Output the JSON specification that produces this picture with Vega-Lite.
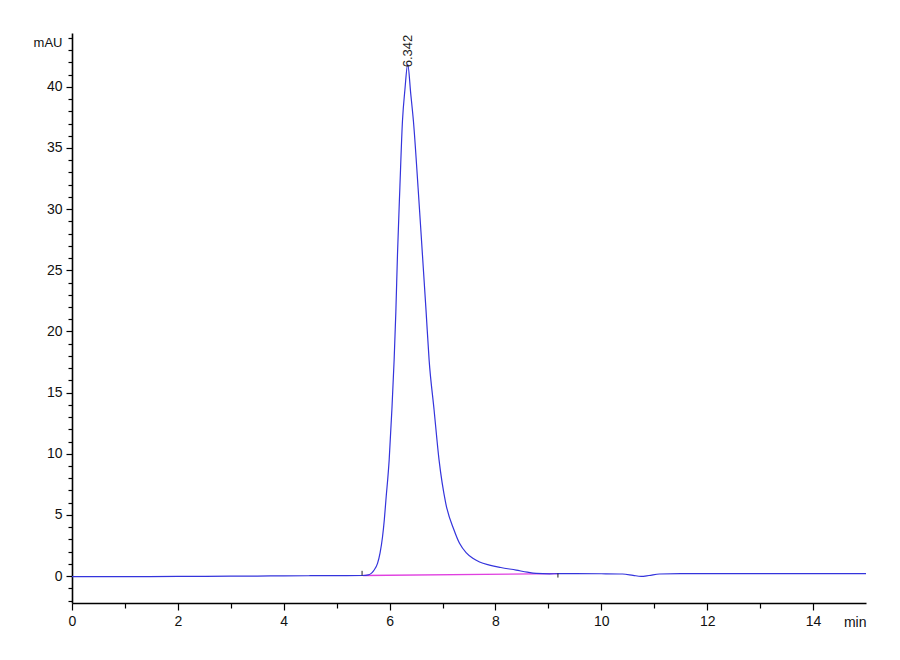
{
  "$schema": "https://vega.github.io/schema/vega-lite/v6.json",
  "width": 794,
  "height": 570,
  "autosize": {"type": "none"},
  "padding": {"left": 72, "top": 33, "right": 34, "bottom": 57},
  "background": "white",
  "config": {
    "view": {"stroke": null},
    "axis": {
      "labelFont": "Liberation Sans Narrow, Liberation Sans, Arial, sans-serif",
      "labelFontSize": 14,
      "labelColor": "#111111",
      "titleFont": "Liberation Sans Narrow, Liberation Sans, Arial, sans-serif",
      "titleFontSize": 13,
      "titleFontWeight": "normal",
      "titleColor": "#111111",
      "domainColor": "#000000",
      "domainWidth": 1.6,
      "tickColor": "#000000",
      "tickWidth": 1.2,
      "labelOverlap": false,
      "labelBound": false,
      "grid": false
    }
  },
  "datasets": {
    "signal": [
      {"rt": 0.0, "mAU": -0.05}, {"rt": 0.5, "mAU": -0.04}, {"rt": 1.0, "mAU": -0.04},
      {"rt": 2.0, "mAU": -0.03}, {"rt": 3.0, "mAU": -0.01}, {"rt": 3.5, "mAU": 0.0},
      {"rt": 4.0, "mAU": 0.02}, {"rt": 4.5, "mAU": 0.03}, {"rt": 5.0, "mAU": 0.04},
      {"rt": 5.5, "mAU": 0.05}, {"rt": 5.6, "mAU": 0.1}, {"rt": 5.647, "mAU": 0.2},
      {"rt": 5.7, "mAU": 0.45}, {"rt": 5.772, "mAU": 1.04}, {"rt": 5.82, "mAU": 1.9},
      {"rt": 5.866, "mAU": 3.2}, {"rt": 5.9, "mAU": 4.6}, {"rt": 5.93, "mAU": 6.2},
      {"rt": 5.992, "mAU": 9.5}, {"rt": 6.043, "mAU": 13.6}, {"rt": 6.086, "mAU": 17.7},
      {"rt": 6.118, "mAU": 21.6}, {"rt": 6.149, "mAU": 26.3}, {"rt": 6.194, "mAU": 31.75},
      {"rt": 6.243, "mAU": 37.2}, {"rt": 6.29, "mAU": 39.8}, {"rt": 6.342, "mAU": 41.85},
      {"rt": 6.4, "mAU": 39.4}, {"rt": 6.45, "mAU": 37.2}, {"rt": 6.538, "mAU": 31.75},
      {"rt": 6.62, "mAU": 26.3}, {"rt": 6.69, "mAU": 21.6}, {"rt": 6.746, "mAU": 17.7},
      {"rt": 6.84, "mAU": 13.6}, {"rt": 6.934, "mAU": 9.5}, {"rt": 7.061, "mAU": 5.95},
      {"rt": 7.217, "mAU": 3.77}, {"rt": 7.321, "mAU": 2.68}, {"rt": 7.45, "mAU": 1.9},
      {"rt": 7.572, "mAU": 1.45}, {"rt": 7.7, "mAU": 1.15}, {"rt": 7.887, "mAU": 0.9},
      {"rt": 8.1, "mAU": 0.7}, {"rt": 8.391, "mAU": 0.49}, {"rt": 8.6, "mAU": 0.32},
      {"rt": 8.768, "mAU": 0.22}, {"rt": 9.02, "mAU": 0.18}, {"rt": 9.2, "mAU": 0.2},
      {"rt": 9.5, "mAU": 0.2}, {"rt": 10.0, "mAU": 0.19}, {"rt": 10.4, "mAU": 0.17},
      {"rt": 10.6, "mAU": 0.06}, {"rt": 10.75, "mAU": -0.02}, {"rt": 10.9, "mAU": 0.05},
      {"rt": 11.1, "mAU": 0.17}, {"rt": 11.5, "mAU": 0.2}, {"rt": 12.0, "mAU": 0.2},
      {"rt": 13.0, "mAU": 0.2}, {"rt": 14.0, "mAU": 0.2}, {"rt": 15.0, "mAU": 0.2}
    ],
    "baseline": [
      {"rt": 5.5, "mAU": 0.05}, {"rt": 9.2, "mAU": 0.2}
    ],
    "marks": [
      {"rt": 5.48, "lo": 0.05, "hi": 0.43},
      {"rt": 9.18, "lo": -0.12, "hi": 0.22}
    ],
    "peaks": [
      {"rt": 6.342, "mAU": 41.6, "label": "6.342"}
    ]
  },
  "layer": [
    {
      "data": {"name": "baseline"},
      "mark": {"type": "line", "color": "#e040e0", "strokeWidth": 1.3},
      "encoding": {
        "x": {
          "field": "rt", "type": "quantitative",
          "scale": {"domain": [0, 15], "nice": false, "zero": false},
          "axis": {
            "title": "min",
            "titleAngle": 0,
            "titleAlign": "right",
            "titleBaseline": "middle",
            "titleX": 794,
            "titleY": 19,
            "titleFontSize": 14,
            "tickCount": 200,
            "format": "d",
            "values": [0, 0.5, 1, 1.5, 2, 2.5, 3, 3.5, 4, 4.5, 5, 5.5, 6, 6.5, 7, 7.5, 8, 8.5, 9, 9.5, 10, 10.5, 11, 11.5, 12, 12.5, 13, 13.5, 14, 14.5],
            "labelExpr": "datum.value % 2 === 0 ? datum.label : ''",
            "tickSize": {"condition": {"test": "datum.value % 2 === 0", "value": 7}, "value": 5},
            "labelPadding": 4,
            "labelFlush": false
          }
        },
        "y": {
          "field": "mAU", "type": "quantitative",
          "scale": {"domain": [-2.2, 44.4], "nice": false, "zero": false},
          "axis": {
            "title": "mAU",
            "titleAngle": 0,
            "titleAlign": "right",
            "titleBaseline": "middle",
            "titleX": -10,
            "titleY": 9,
            "titleFontSize": 13,
            "tickCount": 200,
            "format": "d",
            "values": [-2, -1, 0, 1, 2, 3, 4, 5, 6, 7, 8, 9, 10, 11, 12, 13, 14, 15, 16, 17, 18, 19, 20, 21, 22, 23, 24, 25, 26, 27, 28, 29, 30, 31, 32, 33, 34, 35, 36, 37, 38, 39, 40, 41, 42, 43, 44],
            "labelExpr": "datum.value % 5 === 0 ? datum.label : ''",
            "tickSize": {"condition": {"test": "datum.value % 5 === 0", "value": 6}, "value": 4},
            "labelPadding": 4,
            "labelFlush": false
          }
        }
      }
    },
    {
      "data": {"name": "signal"},
      "mark": {"type": "line", "color": "#3434dc", "strokeWidth": 1.2, "interpolate": "monotone"},
      "encoding": {
        "x": {"field": "rt", "type": "quantitative"},
        "y": {"field": "mAU", "type": "quantitative"}
      }
    },
    {
      "data": {"name": "marks"},
      "mark": {"type": "rule", "color": "#222222", "strokeWidth": 1},
      "encoding": {
        "x": {"field": "rt", "type": "quantitative"},
        "y": {"field": "lo", "type": "quantitative"},
        "y2": {"field": "hi"}
      }
    },
    {
      "data": {"name": "peaks"},
      "mark": {"type": "text", "angle": 270, "align": "left", "baseline": "middle", "fontSize": 13, "font": "Liberation Sans, Arial, sans-serif", "color": "#222222"},
      "encoding": {
        "x": {"field": "rt", "type": "quantitative"},
        "y": {"field": "mAU", "type": "quantitative"},
        "text": {"field": "label"}
      }
    }
  ]
}
